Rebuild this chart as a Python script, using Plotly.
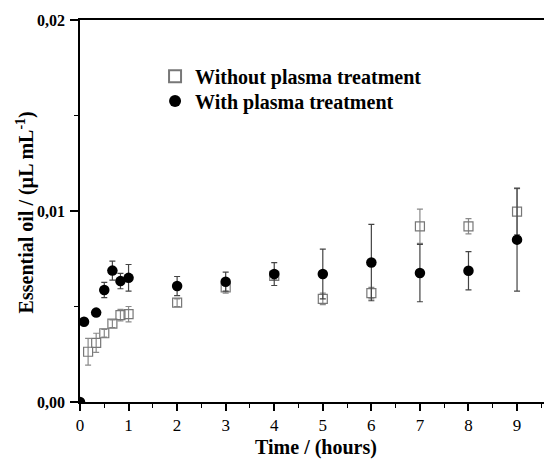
import plotly.graph_objects as go

x_without = [0.167, 0.333, 0.5, 0.667, 0.833, 1, 2, 3, 4, 5, 6, 7, 8, 9]
y_without = [0.00263, 0.0031, 0.0036, 0.0041, 0.00455, 0.0046, 0.0052, 0.0060, 0.0066, 0.0054, 0.0057, 0.0092, 0.0092, 0.00997]
e_without = [0.0007, 0.0005, 0.0002, 0.0002, 0.0003, 0.0004, 0.0002, 0.0003, 0.0002, 0.0003, 0.0003, 0.0009, 0.0004, 0.0012]

x_with = [0, 0.083, 0.333, 0.5, 0.667, 0.833, 1, 2, 3, 4, 5, 6, 7, 8, 9]
y_with = [0.0, 0.0042, 0.00468, 0.00586, 0.00688, 0.00633, 0.0065, 0.00607, 0.0063, 0.0067, 0.0067, 0.0073, 0.00675, 0.00687, 0.0085]
e_with = [0.0, 0.0, 0.0, 0.0004, 0.0005, 0.0004, 0.0007, 0.0005, 0.0005, 0.0006, 0.0013, 0.0020, 0.0015, 0.0010, 0.0027]

x_ticks = [0, 1, 2, 3, 4, 5, 6, 7, 8, 9]
y_ticks = [0, 0.01, 0.02]
y_ticktext = ["0,00", "0,01", "0,02"]

font = "Liberation Serif"

fig = go.Figure()
fig.add_trace(go.Scatter(
    x=x_without, y=y_without, mode="markers", name="<b>Without plasma treatment</b>",
    marker=dict(symbol="square-open", size=9, color="#777777", line=dict(width=1.2)),
    error_y=dict(type="data", array=e_without, color="#8a8a8a", thickness=1.2, width=3),
    cliponaxis=False, legend="legend",
))
fig.add_trace(go.Scatter(
    x=x_with, y=y_with, mode="markers", name="<b>With plasma treatment</b>",
    marker=dict(symbol="circle", size=10.5, color="black"),
    error_y=dict(type="data", array=e_with, color="#444444", thickness=1.2, width=3),
    cliponaxis=True, legend="legend2",
))

legend_style = dict(xanchor="left", yanchor="top",
                    font=dict(family=font, size=20, color="black"),
                    bgcolor="rgba(0,0,0,0)", itemsizing="constant")

fig.update_layout(
    width=544, height=451,
    margin=dict(l=72, r=0, t=12, b=57),
    plot_bgcolor="white", paper_bgcolor="white",
    font=dict(family=font, color="black"),
    showlegend=True,
    legend=dict(x=0.159, y=0.904, **legend_style),
    legend2=dict(x=0.159, y=0.839, **legend_style),
    xaxis=dict(
        range=[0, 9.72], tickvals=x_ticks, showline=True, linecolor="black", linewidth=1.5,
        mirror=True, ticks="outside", ticklen=7, tickwidth=1.5, tickcolor="black",
        minor=dict(dtick=0.5, tick0=0, ticks="outside", ticklen=4, tickwidth=1.2, tickcolor="black"),
        showgrid=False, zeroline=False, automargin=False,
        tickfont=dict(family=font, size=17, color="black"),
        title=dict(text="<b>Time / (hours)</b>", font=dict(family=font, size=20, color="black"), standoff=10),
    ),
    yaxis=dict(
        range=[0, 0.02], tickvals=y_ticks, ticktext=["<b>%s</b>" % t for t in y_ticktext],
        showline=True, linecolor="black", linewidth=1.5,
        ticks="outside", ticklen=8, tickwidth=1.5, tickcolor="black",
        minor=dict(dtick=0.005, tick0=0, ticks="outside", ticklen=4, tickwidth=1.2, tickcolor="black"),
        showgrid=False, zeroline=False, automargin=False,
        tickfont=dict(family=font, size=16, color="black"), ticklabelstandoff=2,
    ),
    annotations=[dict(
        text="<b>Essential oil / (µL mL<sup>-1</sup>)</b>", textangle=-90,
        xref="paper", yref="paper", x=-0.116, y=0.497, xanchor="center", yanchor="middle",
        showarrow=False, font=dict(family=font, size=20, color="black"),
    )],
)
fig.update_xaxes(tickprefix="<b>", ticksuffix="</b>")

fig.write_html("out.html")
